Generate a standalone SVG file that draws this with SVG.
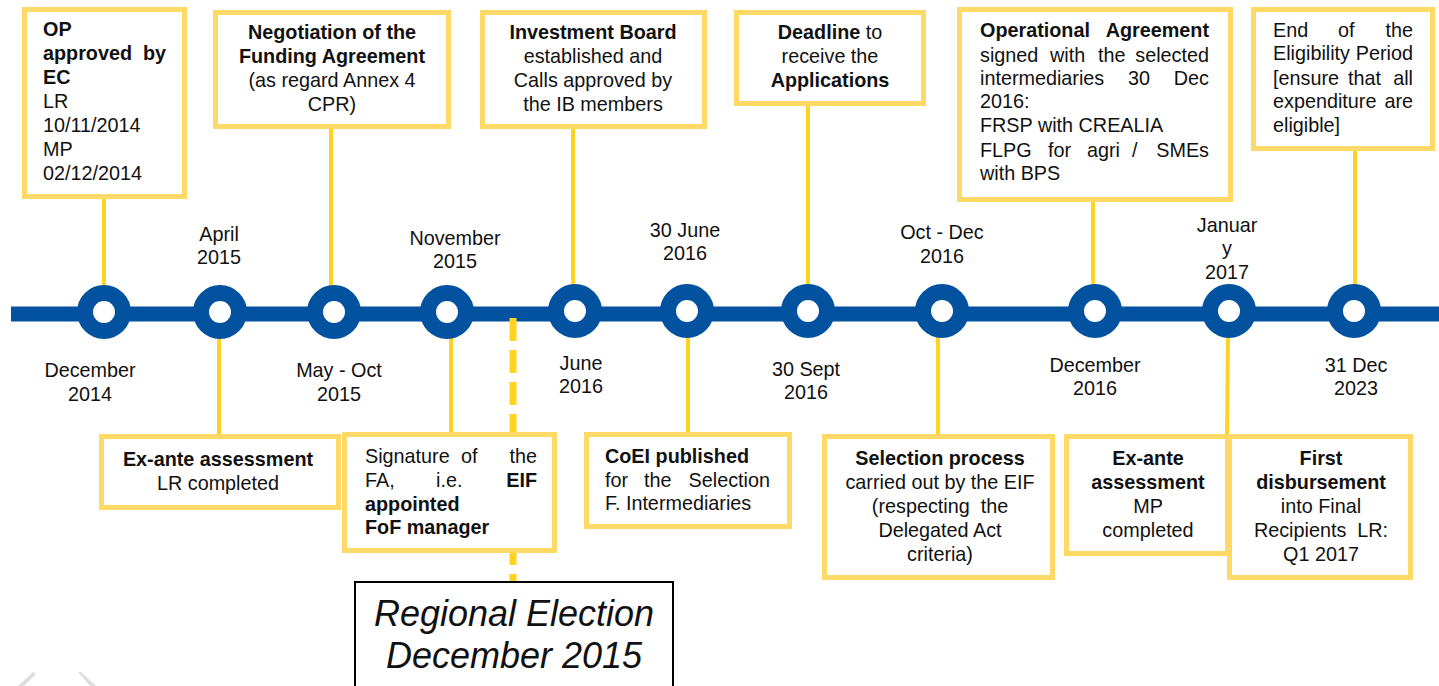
<svg xmlns="http://www.w3.org/2000/svg" width="1439" height="686" viewBox="0 0 1439 686">
<style>
text{font-family:"Liberation Sans",Arial,sans-serif;font-size:19.8px;fill:#111}
.b{font-weight:bold}
.m{text-anchor:middle}
.e{text-anchor:end}
.box{fill:#fff;stroke:#FFD966;stroke-width:5}
.con{stroke:#FFD320;stroke-width:4;fill:none}
.dot{fill:#fff;stroke:#0352A0;stroke-width:16}
.date{text-anchor:middle}
.it{font-style:italic;font-size:36px;text-anchor:middle}
</style>
<rect width="1439" height="686" fill="#fff"/>
<g id="faint">
<polygon points="18,686 33,672 36,674 24,686" fill="#ddd"/>
<polygon points="78,672 81,672 96,686 90,686" fill="#ddd"/>
</g>
<line id="timeline" x1="11" y1="314" x2="1439" y2="314" stroke="#0352A0" stroke-width="15"/>
<g id="connectors">
<line class="con" x1="104" y1="199" x2="104" y2="292"/>
<line class="con" x1="331" y1="129" x2="331" y2="292"/>
<line class="con" x1="573" y1="129" x2="573" y2="292"/>
<line class="con" x1="808" y1="106" x2="808" y2="292"/>
<line class="con" x1="1093" y1="202" x2="1093" y2="292"/>
<line class="con" x1="1355" y1="151" x2="1355" y2="292"/>
<line class="con" x1="219" y1="332" x2="219" y2="436"/>
<line class="con" x1="451" y1="332" x2="451" y2="434"/>
<line class="con" x1="688" y1="332" x2="688" y2="434"/>
<line class="con" x1="938" y1="332" x2="938" y2="436"/>
<line class="con" x1="1228" y1="332" x2="1227" y2="436"/>
<line x1="513" y1="318" x2="513" y2="582" stroke="#FFD320" stroke-width="7" stroke-dasharray="23 9"/>
</g>
<g id="milestones">
<circle class="dot" cx="104" cy="312" r="19"/>
<circle class="dot" cx="220" cy="312" r="19"/>
<circle class="dot" cx="334" cy="312" r="19"/>
<circle class="dot" cx="447" cy="312" r="19"/>
<circle class="dot" cx="575" cy="311" r="19"/>
<circle class="dot" cx="687" cy="311" r="19"/>
<circle class="dot" cx="808" cy="311" r="19"/>
<circle class="dot" cx="942" cy="311" r="19"/>
<circle class="dot" cx="1095" cy="311" r="19"/>
<circle class="dot" cx="1229" cy="311" r="19"/>
<circle class="dot" cx="1354" cy="311" r="19"/>
</g>
<g id="dates">
<text class="date" x="219" y="241">April</text><text class="date" x="219" y="264">2015</text>
<text class="date" x="455" y="245">November</text><text class="date" x="455" y="268">2015</text>
<text class="date" x="685" y="237">30 June</text><text class="date" x="685" y="260">2016</text>
<text class="date" x="942" y="239">Oct - Dec</text><text class="date" x="942" y="263">2016</text>
<text class="date" x="1227" y="232">Januar</text><text class="date" x="1227" y="255">y</text><text class="date" x="1227" y="279">2017</text>
<text class="date" x="90" y="377">December</text><text class="date" x="90" y="401">2014</text>
<text class="date" x="339" y="377">May - Oct</text><text class="date" x="339" y="401">2015</text>
<text class="date" x="581" y="370">June</text><text class="date" x="581" y="393">2016</text>
<text class="date" x="806" y="376">30 Sept</text><text class="date" x="806" y="399">2016</text>
<text class="date" x="1095" y="372">December</text><text class="date" x="1095" y="395">2016</text>
<text class="date" x="1356" y="372">31 Dec</text><text class="date" x="1356" y="395">2023</text>
</g>
<g id="op">
<rect class="box" x="24.5" y="9.5" width="160" height="187"/>
<text class="b" x="43" y="36">OP</text>
<text class="b" x="43" y="60">approved</text><text class="b e" x="166" y="60">by</text>
<text class="b" x="43" y="84">EC</text>
<text x="43" y="108">LR</text>
<text x="43" y="132">10/11/2014</text>
<text x="43" y="156">MP</text>
<text x="43" y="180">02/12/2014</text>
</g>
<g id="negotiation">
<rect class="box" x="215.5" y="12.5" width="233" height="114"/>
<text class="b m" x="332" y="39">Negotiation of the</text>
<text class="b m" x="332" y="63">Funding Agreement</text>
<text class="m" x="332" y="87">(as regard Annex 4</text>
<text class="m" x="332" y="111">CPR)</text>
</g>
<g id="investment">
<rect class="box" x="482.5" y="12.5" width="222" height="114"/>
<text class="b m" x="593" y="39">Investment Board</text>
<text class="m" x="593" y="63">established and</text>
<text class="m" x="593" y="87">Calls approved by</text>
<text class="m" x="593" y="111">the IB members</text>
</g>
<g id="deadline">
<rect class="box" x="736.5" y="12.5" width="187" height="91"/>
<text class="m" x="830" y="39"><tspan class="b">Deadline</tspan> to</text>
<text class="m" x="830" y="63">receive the</text>
<text class="b m" x="830" y="87">Applications</text>
</g>
<g id="operational">
<rect class="box" x="959.5" y="9.5" width="271" height="190"/>
<text class="b" x="980" y="37">Operational</text><text class="b e" x="1209" y="37">Agreement</text>
<text x="980" y="62">signed</text><text x="1050" y="62">with</text><text x="1098" y="62">the</text><text class="e" x="1209" y="62">selected</text>
<text x="980" y="85">intermediaries</text><text x="1128" y="85">30</text><text class="e" x="1209" y="85">Dec</text>
<text x="980" y="108">2016:</text>
<text x="980" y="132">FRSP with CREALIA</text>
<text x="980" y="157">FLPG</text><text x="1048" y="157">for</text><text x="1087" y="157">agri</text><text x="1132" y="157">/</text><text class="e" x="1209" y="157">SMEs</text>
<text x="980" y="180">with BPS</text>
</g>
<g id="eligibility">
<rect class="box" x="1253.5" y="9.5" width="179" height="139"/>
<text x="1273" y="37">End</text><text x="1338" y="37">of</text><text class="e" x="1413" y="37">the</text>
<text x="1273" y="60">Eligibility</text><text class="e" x="1413" y="60">Period</text>
<text x="1273" y="85">[ensure</text><text x="1348" y="85">that</text><text class="e" x="1413" y="85">all</text>
<text x="1273" y="108">expenditure</text><text class="e" x="1413" y="108">are</text>
<text x="1273" y="132">eligible]</text>
</g>
<g id="exante-lr">
<rect class="box" x="101.5" y="436.5" width="237" height="71"/>
<text class="b m" x="218" y="466">Ex-ante assessment</text>
<text class="m" x="218" y="490">LR completed</text>
</g>
<g id="signature">
<rect class="box" x="344.5" y="434.5" width="210" height="116"/>
<text x="365" y="463">Signature</text><text x="461" y="463">of</text><text class="e" x="537" y="463">the</text>
<text x="365" y="487">FA,</text><text x="436" y="487">i.e.</text><text class="b e" x="537" y="487">EIF</text>
<text class="b" x="365" y="511">appointed</text>
<text class="b" x="365" y="534">FoF manager</text>
</g>
<g id="election">
<rect x="355" y="582" width="318" height="130" fill="#fff" stroke="#000" stroke-width="2"/>
<text class="it" x="514" y="626">Regional Election</text>
<text class="it" x="514" y="668">December 2015</text>
</g>
<g id="coei">
<rect class="box" x="586.5" y="434.5" width="203" height="92"/>
<text class="b" x="605" y="463">CoEI published</text>
<text x="605" y="487">for</text><text x="644" y="487">the</text><text class="e" x="770" y="487">Selection</text>
<text x="605" y="510">F. Intermediaries</text>
</g>
<g id="selection">
<rect class="box" x="824.5" y="436.5" width="228" height="141"/>
<text class="b m" x="940" y="465">Selection process</text>
<text class="m" x="940" y="489">carried out by the EIF</text>
<text class="m" x="940" y="513" xml:space="preserve">(respecting  the</text>
<text class="m" x="940" y="537">Delegated Act</text>
<text class="m" x="940" y="561">criteria)</text>
</g>
<g id="exante-mp">
<rect class="box" x="1066.5" y="436.5" width="161" height="117"/>
<text class="b m" x="1148" y="465">Ex-ante</text>
<text class="b m" x="1148" y="489">assessment</text>
<text class="m" x="1148" y="513">MP</text>
<text class="m" x="1148" y="537">completed</text>
</g>
<g id="disbursement">
<rect class="box" x="1229.5" y="436.5" width="181" height="141"/>
<text class="b m" x="1321" y="465">First</text>
<text class="b m" x="1321" y="489">disbursement</text>
<text class="m" x="1321" y="513">into Final</text>
<text class="m" x="1321" y="537" xml:space="preserve">Recipients  LR:</text>
<text class="m" x="1321" y="561">Q1 2017</text>
</g>
</svg>
